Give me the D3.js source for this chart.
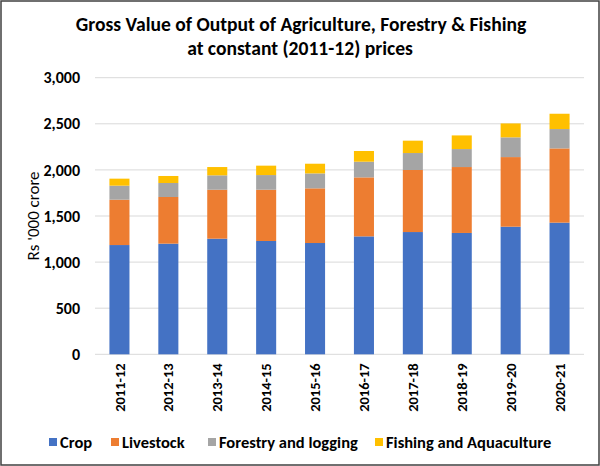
<!DOCTYPE html>
<html><head><meta charset="utf-8">
<script src="https://cdn.jsdelivr.net/npm/d3@7"></script>
<style>
html,body{margin:0;padding:0;background:#fff;}
svg text{font-family:Carlito, Calibri, Lato, sans-serif;}
</style></head>
<body>
<svg id="chart" width="600" height="466"></svg>
<script>
const years = ["2011-12","2012-13","2013-14","2014-15","2015-16","2016-17","2017-18","2018-19","2019-20","2020-21"];
const crop = [1185,1200,1254,1229,1207,1279,1326,1316,1384,1428];
const livestock = [492,506,531,556,593,640,673,715,755,805];
const forestry = [152,152,156,159,162,170,184,195,214,210];
const fishing = [76,76,90,102,105,116,134,148,151,166];
const seriesNames = ["Crop","Livestock","Forestry and logging","Fishing and Aquaculture"];
const colors = ["#4472C4","#ED7D31","#A5A5A5","#FFC000"];
const yTicks = [0,500,1000,1500,2000,2500,3000];

const svg = d3.select("#chart");
const W = 600, H = 466;
svg.append("rect").attr("x",1).attr("y",1).attr("width",W-2).attr("height",H-2)
  .attr("fill","#fff").attr("stroke","#404040").attr("stroke-width",1.5);

const m = {left:95, right:16, top:77.7, bottom:111.7};
const x = d3.scaleBand().domain(years).range([m.left, W-m.right]).paddingInner(0.59).paddingOuter(0.295);
const y = d3.scaleLinear().domain([0,3000]).range([H-m.bottom, m.top]);

const rows = years.map((yr,i)=>({year:yr, s0:crop[i], s1:livestock[i], s2:forestry[i], s3:fishing[i]}));
const stack = d3.stack().keys(["s0","s1","s2","s3"])(rows);

// gridlines
svg.append("g").selectAll("line").data(yTicks).join("line")
  .attr("x1",m.left).attr("x2",W-m.right)
  .attr("y1",d=>y(d)).attr("y2",d=>y(d))
  .attr("stroke","#d9d9d9").attr("stroke-width",1);

// bars
svg.append("g").selectAll("g").data(stack).join("g")
  .attr("fill",(d,i)=>colors[i])
  .selectAll("rect").data(d=>d).join("rect")
  .attr("x",d=>x(d.data.year)).attr("width",x.bandwidth())
  .attr("y",d=>y(d[1])).attr("height",d=>y(d[0])-y(d[1]));

// y axis
const yAxis = d3.axisLeft(y).tickValues(yTicks).tickFormat(d3.format(",")).tickSize(0).tickPadding(15);
const gy = svg.append("g").attr("transform",`translate(${m.left},0)`).call(yAxis);
gy.select(".domain").remove();
gy.selectAll("text").attr("font-size",16).attr("fill","#000").style("font-weight","bold");

// x axis
const xAxis = d3.axisBottom(x).tickSize(0).tickPadding(0);
const gx = svg.append("g").attr("transform",`translate(0,${H-m.bottom})`).call(xAxis);
gx.select(".domain").remove();
gx.selectAll("text").attr("font-size",14.5).attr("fill","#000").style("font-weight","bold")
  .attr("text-anchor","end").attr("dy","0.35em")
  .attr("transform","translate(0,9) rotate(-90)").attr("x",0).attr("y",0);

// y title
svg.append("text").attr("transform",`translate(33,${(y(0)+y(3000))/2}) rotate(-90)`)
  .attr("text-anchor","middle").attr("dy","0.35em").attr("font-size",17).style("font-weight","normal").text("Rs '000 crore");

// title
svg.append("text").attr("x",301).attr("y",31).attr("text-anchor","middle")
  .attr("font-size",19.6).style("font-weight","bold").text("Gross Value of Output of Agriculture, Forestry & Fishing");
svg.append("text").attr("x",300).attr("y",55).attr("text-anchor","middle")
  .attr("font-size",19.6).style("font-weight","bold").text("at constant (2011-12) prices");

// legend
const legX = [49,111,208,375];
const lg = svg.append("g").selectAll("g").data(seriesNames).join("g")
  .attr("transform",(d,i)=>`translate(${legX[i]},442)`);
lg.append("rect").attr("x",0).attr("y",-4).attr("width",8).attr("height",8).attr("fill",(d,i)=>colors[i]);
lg.append("text").attr("x",11).attr("y",0).attr("dy","0.35em").attr("font-size",16.5).style("font-weight","bold").text(d=>d);
</script>
</body></html>
